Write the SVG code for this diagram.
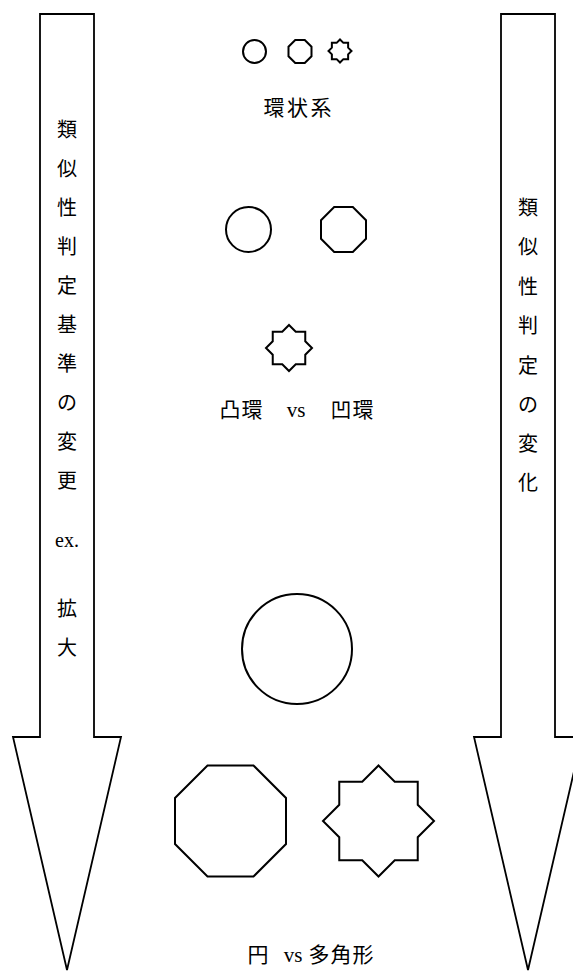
<svg xmlns="http://www.w3.org/2000/svg" width="573" height="972" viewBox="0 0 573 972">
<style>
.ln{fill:#fff;stroke:#000;stroke-width:2;stroke-linejoin:miter}
.ar{fill:#fff;stroke:#000;stroke-width:1.8}
.t{font-family:"Liberation Serif","Noto Sans CJK JP",serif;font-size:20px;fill:#000;text-anchor:middle}
.h{font-size:21px}
</style>
<rect width="573" height="972" fill="#fff"/>
<g id="arrow-left">
<polygon class="ar" points="40,14 94,14 94,737 121,737 67,970 13,737 40,737"/>
<text class="t" x="67" y="137">類</text>
<text class="t" x="67" y="176">似</text>
<text class="t" x="67" y="215">性</text>
<text class="t" x="67" y="254">判</text>
<text class="t" x="67" y="293">定</text>
<text class="t" x="67" y="332">基</text>
<text class="t" x="67" y="371">準</text>
<text class="t" x="67" y="410">の</text>
<text class="t" x="67" y="449">変</text>
<text class="t" x="67" y="488">更</text>
<text class="t" x="67" y="547">ex.</text>
<text class="t" x="67" y="616">拡</text>
<text class="t" x="67" y="655">大</text>
</g>
<g id="arrow-right">
<polygon class="ar" points="501,14 555,14 555,737 582,737 528,970 474,737 501,737"/>
<text class="t" x="528" y="215">類</text>
<text class="t" x="528" y="254">似</text>
<text class="t" x="528" y="294">性</text>
<text class="t" x="528" y="333">判</text>
<text class="t" x="528" y="373">定</text>
<text class="t" x="528" y="412">の</text>
<text class="t" x="528" y="451">変</text>
<text class="t" x="528" y="490">化</text>
</g>
<g id="ring-small">
<circle class="ln" cx="254.5" cy="51.5" r="11.5"/>
<polygon class="ln" points="295.24,40 304.76,40 311.5,46.74 311.5,56.26 304.76,63 295.24,63 288.5,56.26 288.5,46.74"/>
<polygon class="ln" points="340,39.5 343.37,42.87 348.13,42.87 348.13,47.63 351.5,51 348.13,54.37 348.13,59.13 343.37,59.13 340,62.5 336.63,59.13 331.87,59.13 331.87,54.37 328.5,51 331.87,47.63 331.87,42.87 336.63,42.87"/>
<text class="t h" x="274 297.5 321" y="115">環状系</text>
</g>
<g id="ring-medium">
<circle class="ln" cx="248.5" cy="229.5" r="22.5"/>
<polygon class="ln" points="334.18,207 352.82,207 366,220.18 366,238.82 352.82,252 334.18,252 321,238.82 321,220.18"/>
<polygon class="ln" points="289,325 295.74,331.74 305.26,331.74 305.26,341.26 312,348 305.26,354.74 305.26,364.26 295.74,364.26 289,371 282.26,364.26 272.74,364.26 272.74,354.74 266,348 272.74,341.26 272.74,331.74 282.26,331.74"/>
<text class="t h" x="230 252" y="417">凸環</text>
<text class="t h" x="296" y="417">vs</text>
<text class="t h" x="341 363" y="417">凹環</text>
</g>
<g id="ring-large">
<circle class="ln" cx="297" cy="649" r="55"/>
<polygon class="ln" points="207.51,765.5 253.49,765.5 286,798.01 286,843.99 253.49,876.5 207.51,876.5 175,843.99 175,798.01"/>
<polygon class="ln" points="378.5,765.5 394.76,781.76 417.74,781.76 417.74,804.74 434,821 417.74,837.26 417.74,860.24 394.76,860.24 378.5,876.5 362.24,860.24 339.26,860.24 339.26,837.26 323,821 339.26,804.74 339.26,781.76 362.24,781.76"/>
<text class="t h" x="258" y="962">円</text>
<text class="t h" x="293" y="962">vs</text>
<text class="t h" x="319 341 363" y="962">多角形</text>
</g>
<g id="connectors"/>
</svg>
